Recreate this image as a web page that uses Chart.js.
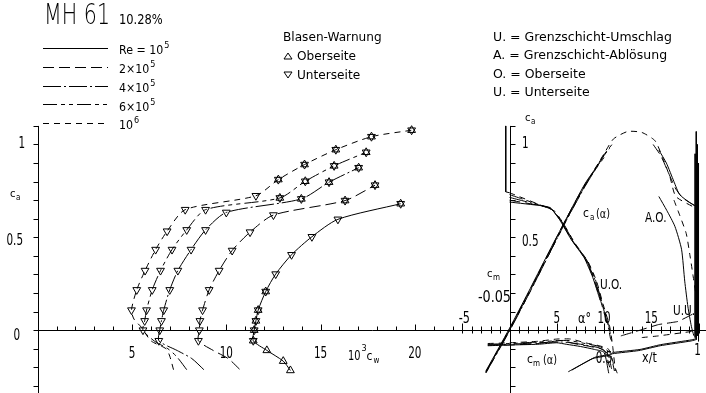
<!DOCTYPE html>
<html>
<head>
<meta charset="utf-8">
<script src="https://cdn.jsdelivr.net/npm/chart.js@4.4.1/dist/chart.umd.min.js"></script>
<style>
html, body { margin: 0; padding: 0; background: #fff; }
#wrap { position: relative; width: 706px; height: 393px; }
</style>
</head>
<body>
<div id="wrap"><canvas id="chart"></canvas></div>
<script>
// MH 61 polars - left: c_a over 10^3 c_w, right: c_a(alpha), c_m(alpha), transition x/t

var reNames = ["Re = 10", "2\u00d710", "4\u00d710", "6\u00d710", "10"];
var reExps = ["5", "5", "5", "5", "6"];

// polar: 10^3 c_w, c_a, marker (u = up, d = down, s = both, - = none)
var cw_1e5 = [13.4, 13.02, 12.15, 11.43, 11.48, 11.57, 11.69, 12.09, 12.62, 13.46, 14.54, 15.92, 19.25];
var cl_1e5 = [-0.217, -0.167, -0.109, -0.057, 0.0, 0.05, 0.108, 0.208, 0.302, 0.406, 0.503, 0.597, 0.681];
var mk_1e5 = "uuusssssdddds";

var cw_2e5 = [10.7, 10.1, 9.3, 8.52, 8.57, 8.6, 8.74, 9.09, 9.62, 10.31, 11.26, 12.5, 16.3, 17.89];
var cl_2e5 = [-0.21, -0.153, -0.109, -0.057, 0, 0.05, 0.108, 0.217, 0.321, 0.429, 0.528, 0.62, 0.698, 0.781];
var mk_2e5 = "---dddddddddss";

var cw_4e5 = [8.81, 8.17, 7.4, 6.42, 6.47, 6.56, 6.68, 7.0, 7.43, 8.13, 8.9, 10.0, 13.98, 15.45, 17.02];
var cl_4e5 = [-0.213, -0.153, -0.11, -0.057, 0, 0.05, 0.108, 0.217, 0.321, 0.434, 0.54, 0.634, 0.707, 0.797, 0.875];
var mk_4e5 = "---dddddddddsss";

var cw_6e5 = [7.9, 7.38, 6.9, 6.2, 5.58, 5.67, 5.77, 6.07, 6.51, 7.12, 7.9, 8.9, 12.84, 14.19, 15.72, 17.42];
var cl_6e5 = [-0.213, -0.144, -0.1, -0.06, 0, 0.05, 0.108, 0.217, 0.321, 0.434, 0.54, 0.649, 0.712, 0.802, 0.885, 0.958];
var mk_6e5 = "----ddddddddssss";

var cw_1e6 = [7.2, 7.0, 6.8, 6.0, 5.5, 5.1, 4.97, 5.25, 5.69, 6.25, 6.86, 7.82, 11.57, 12.76, 14.15, 15.81, 17.7, 19.83];
var cl_1e6 = [-0.213, -0.14, -0.1, -0.057, 0.015, 0.06, 0.108, 0.217, 0.321, 0.434, 0.533, 0.649, 0.724, 0.811, 0.892, 0.972, 1.042, 1.077];
var mk_1e6 = "------dddddddsssss";

// c_a(alpha)
var al_1e5 = [-2.5, 0, 2, 4, 6, 8, 9.5];
var ca_1e5 = [-0.22, 0.01, 0.205, 0.405, 0.6, 0.79, 0.9];
var al_2e5 = [-2.5, 0, 2, 4, 6, 8, 10];
var ca_2e5 = [-0.225, 0.005, 0.2, 0.4, 0.6, 0.785, 0.93];
var al_4e5 = [-2.5, 0, 2, 4, 6, 8, 10, 10.6];
var ca_4e5 = [-0.23, -0.005, 0.19, 0.39, 0.59, 0.775, 0.94, 0.98];
var al_6e5 = [-2.5, 0, 2, 4, 6, 8, 10, 11];
var ca_6e5 = [-0.225, 0, 0.195, 0.395, 0.595, 0.78, 0.945, 1.01];
var al_1e6 = [-2.5, 0, 2, 4, 6, 8, 10, 11, 12.5, 14, 15.4, 16.2, 17, 17.6, 19.6];
var ca_1e6 = [-0.23, 0, 0.19, 0.39, 0.59, 0.78, 0.95, 1.03, 1.07, 1.065, 1.02, 0.93, 0.82, 0.72, 0.66];

// c_m(alpha)
var am_1e5 = [-2.3, 0, 3, 5, 6, 7.5, 9, 10, 10.5];
var cm_1e5 = [0.021, 0.02, 0.019, 0.017, 0.019, 0.022, 0.026, 0.03, 0.058];
var am_2e5 = [-2.3, 0, 3, 5.5, 6.8, 8.5, 10, 10.6];
var cm_2e5 = [0.02, 0.02, 0.018, 0.014, 0.018, 0.022, 0.027, 0.05];
var am_4e5 = [-2.3, 0, 3, 5.5, 6.5, 8, 9.5, 10.4, 10.8];
var cm_4e5 = [0.02, 0.019, 0.017, 0.016, 0.017, 0.02, 0.024, 0.032, 0.052];
var am_6e5 = [-2.3, 0, 3, 5.2, 6.3, 8, 9.5, 10.6, 11.1];
var cm_6e5 = [0.019, 0.018, 0.016, 0.014, 0.014, 0.018, 0.022, 0.03, 0.055];
var am_1e6 = [-2.3, 0, 3, 5, 6.5, 8, 9.5, 10.5, 11, 11.4];
var cm_1e6 = [0.018, 0.017, 0.015, 0.012, 0.012, 0.017, 0.021, 0.026, 0.045, 0.058];

// upper side transition (U.O.): x/t, c_a
var uo_t_1e5 = [0, 0.17, 0.215, 0.265, 0.325, 0.395, 0.44, 0.48];
var uo_c_1e5 = [0.69, 0.67, 0.66, 0.595, 0.49, 0.39, 0.285, 0.16];
var uo_t_2e5 = [0, 0.18, 0.22, 0.27, 0.33, 0.4, 0.445, 0.483, 0.515];
var uo_c_2e5 = [0.70, 0.668, 0.655, 0.59, 0.485, 0.385, 0.28, 0.155, 0.04];
var uo_t_4e5 = [0, 0.19, 0.225, 0.275, 0.335, 0.405, 0.45, 0.487, 0.52, 0.535];
var uo_c_4e5 = [0.715, 0.665, 0.65, 0.585, 0.48, 0.38, 0.275, 0.15, 0.03, -0.05];
var uo_t_6e5 = [0, 0.2, 0.23, 0.28, 0.34, 0.41, 0.455, 0.49, 0.525, 0.54];
var uo_c_6e5 = [0.73, 0.66, 0.645, 0.58, 0.475, 0.375, 0.27, 0.145, 0.025, -0.06];
var uo_t_1e6 = [0, 0.21, 0.24, 0.285, 0.345, 0.415, 0.46, 0.495, 0.53, 0.545, 0.56];
var uo_c_1e6 = [0.74, 0.655, 0.64, 0.575, 0.47, 0.37, 0.265, 0.14, 0.02, -0.08, -0.22];
var uo_t_le = [-0.02, -0.02, 0];
var uo_c_le = [1.1, 0.745, 0.74];

// upper side separation (A.O.)
var ao_t_a = [0.79, 0.832, 0.875, 0.91, 0.927, 0.944, 0.962, 0.975];
var ao_c_a = [0.72, 0.645, 0.559, 0.436, 0.264, 0.125, 0.021, -0.03];
var ao_t_b = [0.87, 0.9, 0.935, 0.955, 0.97, 0.985];
var ao_c_b = [0.70, 0.62, 0.52, 0.40, 0.30, 0.2];
var ao_t_c = [0.76, 0.80, 0.84, 0.88, 0.92, 0.98];
var ao_c_c = [1.0, 0.94, 0.85, 0.76, 0.71, 0.67];
var ao_t_d = [0.79, 0.83, 0.87, 0.9, 0.95, 0.99];
var ao_c_d = [0.97, 0.9, 0.8, 0.73, 0.69, 0.665];

// lower side transition (U.U.)
var uu_t_a = [0.311, 0.441, 0.528, 0.545, 0.684, 0.797, 0.962, 0.99];
var uu_c_a = [-0.224, -0.153, -0.136, -0.127, -0.11, -0.084, -0.058, -0.05];
var uu_t_b = [0.33, 0.45, 0.53, 0.55, 0.69, 0.80, 0.965, 0.99];
var uu_c_b = [-0.215, -0.147, -0.13, -0.12, -0.104, -0.078, -0.052, -0.045];
var uu_t_c = [0.589, 0.675, 0.788, 0.892, 0.97];
var uu_c_c = [-0.031, -0.005, 0.03, 0.047, 0.087];
var uu_t_d = [0.70, 0.788, 0.979];
var uu_c_d = [-0.04, -0.031, -0.005];

// trailing edge bundle
var te_t = [0.982, 0.988, 0.994, 1.0];
var te_top = [0.95, 1.07, 1.0, 0.9];
var te_bot = [-0.04, -0.05, -0.03, -0.06];

// tick labels
var cwTicks = ["5", "10", "15", "20"];
var alphaTicks = ["5", "10", "15"];

var DASH = [[], [11, 5], [18, 3, 2, 3], [14, 4, 4, 4, 4, 4], [6, 5]];

function series(xs, ys, xAxis, yAxis, dash, tension) {
    return {
        data: xs.map(function (v, i) { return {x: v, y: ys[i]}; }),
        xAxisID: xAxis, yAxisID: yAxis,
        showLine: true, borderColor: "#000", borderWidth: 1,
        borderDash: dash, pointRadius: 0, fill: false, tension: tension
    };
}

function marks(xs, ys, codes, want, rot) {
    var pts = [];
    for (var i = 0; i < xs.length; i++) {
        if (want.indexOf(codes[i]) >= 0) pts.push({x: xs[i], y: ys[i]});
    }
    return {
        data: pts, xAxisID: "x", yAxisID: "y", showLine: false,
        pointStyle: "triangle", pointRotation: rot, pointRadius: 4.5,
        pointBorderColor: "#000", pointBackgroundColor: "rgba(0,0,0,0)", pointBorderWidth: 1
    };
}

var polars = [[cw_1e5, cl_1e5, mk_1e5], [cw_2e5, cl_2e5, mk_2e5], [cw_4e5, cl_4e5, mk_4e5],
              [cw_6e5, cl_6e5, mk_6e5], [cw_1e6, cl_1e6, mk_1e6]];
var liftCurves = [[al_1e5, ca_1e5], [al_2e5, ca_2e5], [al_4e5, ca_4e5], [al_6e5, ca_6e5], [al_1e6, ca_1e6]];
var momentCurves = [[am_1e5, cm_1e5], [am_2e5, cm_2e5], [am_4e5, cm_4e5], [am_6e5, cm_6e5], [am_1e6, cm_1e6]];
var transCurves = [[uo_t_1e5, uo_c_1e5], [uo_t_2e5, uo_c_2e5], [uo_t_4e5, uo_c_4e5], [uo_t_6e5, uo_c_6e5], [uo_t_1e6, uo_c_1e6]];

var datasets = [];
polars.forEach(function (p, k) {
    datasets.push(series(p[0], p[1], "x", "y", DASH[k], 0.25));
    datasets.push(marks(p[0], p[1], p[2], "ds", 180));
    datasets.push(marks(p[0], p[1], p[2], "us", 0));
});
liftCurves.forEach(function (c, k) { datasets.push(series(c[0], c[1], "xa", "y", DASH[k], 0.2)); });
momentCurves.forEach(function (c, k) { datasets.push(series(c[0], c[1], "xa", "ycm", DASH[k], 0.2)); });
transCurves.forEach(function (c, k) { datasets.push(series(c[0], c[1], "xt", "y", DASH[k], 0.15)); });
datasets.push(series(uo_t_le, uo_c_le, "xt", "y", [], 0));
datasets.push(series(ao_t_a, ao_c_a, "xt", "y", [], 0.2));
datasets.push(series(ao_t_b, ao_c_b, "xt", "y", [6, 5], 0.2));
datasets.push(series(ao_t_c, ao_c_c, "xt", "y", [11, 5], 0.2));
datasets.push(series(ao_t_d, ao_c_d, "xt", "y", [], 0.2));
datasets.push(series(uu_t_a, uu_c_a, "xt", "y", [], 0.15));
datasets.push(series(uu_t_b, uu_c_b, "xt", "y", [], 0.15));
datasets.push(series(uu_t_c, uu_c_c, "xt", "y", [11, 5], 0.1));
datasets.push(series(uu_t_d, uu_c_d, "xt", "y", [6, 5], 0.1));
te_t.forEach(function (t, k) {
    datasets.push(series([t, t], [te_top[k], te_bot[k]], "xt", "y", [], 0));
});

function txt(ctx, s, x, y, size, sx, align, weight) {
    ctx.save();
    ctx.font = (weight || 400) + " " + size + "px 'DejaVu Sans'";
    ctx.textBaseline = "alphabetic";
    ctx.textAlign = "left";
    var w = ctx.measureText(s).width * sx;
    if (align === "center") x -= w / 2;
    if (align === "right") x -= w;
    ctx.translate(x, y);
    ctx.scale(sx, 1);
    ctx.fillText(s, 0, 0);
    ctx.restore();
    return x + w;
}

function seg(ctx, x1, y1, x2, y2) {
    ctx.beginPath(); ctx.moveTo(x1, y1); ctx.lineTo(x2, y2); ctx.stroke();
}

function tri(ctx, x, y, down) {
    ctx.beginPath();
    if (down) { ctx.moveTo(x - 4, y - 3); ctx.lineTo(x + 4, y - 3); ctx.lineTo(x, y + 3); }
    else { ctx.moveTo(x - 4, y + 3); ctx.lineTo(x + 4, y + 3); ctx.lineTo(x, y - 3); }
    ctx.closePath(); ctx.stroke();
}

var frame = {
    id: "frame",
    afterDraw: function (chart) {
        var ctx = chart.ctx;
        var sx = chart.scales.x, sa = chart.scales.xa, st = chart.scales.xt, sy = chart.scales.y;
        ctx.save();
        ctx.strokeStyle = "#000"; ctx.fillStyle = "#000"; ctx.lineWidth = 1;
        var X0 = Math.round(sx.getPixelForValue(0)) + 0.5;
        var XA = Math.round(sa.getPixelForValue(0)) + 0.5;
        var Y0 = Math.round(sy.getPixelForValue(0)) + 0.5;
        var top = sy.getPixelForValue(1.1);

        // c_a axes
        seg(ctx, X0, top, X0, 393);
        seg(ctx, XA, top, XA, 393);
        for (var v = -3; v <= 11; v++) {
            var yy = Math.round(sy.getPixelForValue(v / 10)) + 0.5;
            seg(ctx, X0 - 5, yy, X0, yy);
            seg(ctx, XA, yy, XA + 5, yy);
        }
        // horizontal axis
        seg(ctx, X0, Y0, 706, Y0);
        for (var c = 1; c <= 22; c++) {
            var xx = Math.round(sx.getPixelForValue(c)) + 0.5;
            seg(ctx, xx, Y0 - (c % 5 === 0 ? 6 : 4), xx, Y0);
        }
        for (var a = -5; a <= 20; a++) {
            if (a === 0) continue;
            var xa = Math.round(sa.getPixelForValue(a)) + 0.5;
            seg(ctx, xa, Y0 - (a % 5 === 0 ? 7 : 4), xa, Y0 + 3);
        }

        // tick labels
        txt(ctx, "1", 25, 148, 16, 0.65, "right");
        txt(ctx, "0.5", 23, 245, 16, 0.65, "right");
        txt(ctx, "0", 20, 340, 16, 0.65, "right");
        [5, 10, 15, 20].forEach(function (t, i) {
            txt(ctx, cwTicks[i], sx.getPixelForValue(t), 358, 16, 0.65, "center");
        });
        var e = txt(ctx, "10", 348, 360, 14, 0.7, "left");
        txt(ctx, "3", e + 1, 351, 9, 0.9, "left");
        txt(ctx, "c", e + 6, 360, 12, 0.9, "left");
        txt(ctx, "w", e + 13, 363, 8, 0.9, "left");
        txt(ctx, "c", 10, 197, 11, 0.9, "left");
        txt(ctx, "a", 16, 200, 8, 0.9, "left");

        txt(ctx, "1", 522, 148, 16, 0.65, "left");
        txt(ctx, "0.5", 522, 246, 16, 0.65, "left");
        txt(ctx, "c", 525, 121, 11, 0.9, "left");
        txt(ctx, "a", 531, 124, 8, 0.9, "left");
        txt(ctx, "c", 487, 277, 11, 0.9, "left");
        txt(ctx, "m", 493, 280, 8, 0.9, "left");
        txt(ctx, "-0.05", 511, 302, 16, 0.8, "right");
        txt(ctx, "-5", sa.getPixelForValue(-5) + 2, 323, 16, 0.7, "center");
        [5, 10, 15].forEach(function (t, i) {
            txt(ctx, alphaTicks[i], sa.getPixelForValue(t), 323, 16, 0.65, "center");
        });
        txt(ctx, "\u03b1\u00b0", 578, 323, 14, 0.8, "left");
        txt(ctx, "0.5", st.getPixelForValue(0.5), 363, 16, 0.65, "center");
        txt(ctx, "x/t", 642, 362, 14, 0.8, "left");
        txt(ctx, "1", st.getPixelForValue(1) - 1, 355, 16, 0.65, "center");

        txt(ctx, "c", 583, 217, 12, 0.9, "left");
        txt(ctx, "a", 590, 220, 8, 0.9, "left");
        txt(ctx, "(\u03b1)", 596, 218, 13, 0.75, "left");
        txt(ctx, "c", 527, 363, 12, 0.9, "left");
        txt(ctx, "m", 533, 366, 8, 0.9, "left");
        txt(ctx, "(\u03b1)", 543, 364, 13, 0.75, "left");
        txt(ctx, "U.O.", 600, 289, 14, 0.75, "left");
        txt(ctx, "A.O.", 645, 222, 14, 0.75, "left");
        txt(ctx, "U.U.", 673, 315, 14, 0.75, "left");

        // title
        txt(ctx, "MH 61", 44, 24, 29, 0.71, "left", 200);
        txt(ctx, "10.28%", 119, 24, 14, 0.82, "left");

        // Re legend
        var base = [54, 73, 92, 110.5, 129];
        for (var k = 0; k < 5; k++) {
            ctx.setLineDash(DASH[k]);
            seg(ctx, 43, Math.round(base[k] - 6.5) + 0.5, 108, Math.round(base[k] - 6.5) + 0.5);
            ctx.setLineDash([]);
            var end = txt(ctx, reNames[k], 119, base[k], 13, 0.85, "left");
            txt(ctx, reExps[k], end + 1, base[k] - 6, 9, 0.9, "left");
        }

        // bubble warning legend
        txt(ctx, "Blasen-Warnung", 283, 40.5, 12.5, 0.97, "left");
        tri(ctx, 288, 56, false);
        txt(ctx, "Oberseite", 297, 59.5, 12.5, 0.97, "left");
        tri(ctx, 288, 75, true);
        txt(ctx, "Unterseite", 297, 78.5, 12.5, 0.97, "left");

        // boundary layer legend
        txt(ctx, "U. = Grenzschicht-Umschlag", 493, 40.5, 12.5, 1.0, "left");
        txt(ctx, "A. = Grenzschicht-Abl\u00f6sung", 493, 59, 12.5, 1.0, "left");
        txt(ctx, "O. = Oberseite", 493, 77.5, 12.5, 1.0, "left");
        txt(ctx, "U. = Unterseite", 493, 96, 12.5, 1.0, "left");
        ctx.restore();
    }
};

new Chart(document.getElementById("chart"), {
    type: "scatter",
    data: {datasets: datasets},
    options: {
        responsive: true,
        maintainAspectRatio: false,
        animation: false,
        devicePixelRatio: 1,
        events: [],
        layout: {padding: 0},
        plugins: {legend: {display: false}, tooltip: {enabled: false}},
        scales: {
            x: {type: "linear", min: -1.7128, max: 35.154, display: false},
            xa: {type: "linear", axis: "x", min: -53.333, max: 20.2083, display: false},
            xt: {type: "linear", axis: "x", min: -2.6667, max: 1.01042, display: false},
            y: {type: "linear", min: -0.308901, max: 1.74869, display: false},
            ycm: {type: "linear", axis: "y", min: -0.43717, max: 0.077225, reverse: true, display: false}
        }
    },
    plugins: [frame]
});
</script>
</body>
</html>
